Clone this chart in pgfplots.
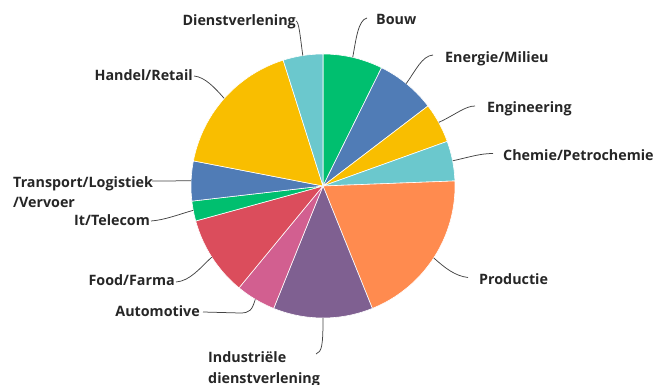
\documentclass[border=0pt]{standalone}
\usepackage{fontspec}
\setmainfont{Open Sans}
\usepackage{pgfplots}
\pgfplotsset{compat=1.18}
\definecolor{cgreen}{HTML}{00BF6F}
\definecolor{cblue}{HTML}{507CB6}
\definecolor{cyellow}{HTML}{F9BE00}
\definecolor{cteal}{HTML}{6BC8CD}
\definecolor{corange}{HTML}{FF8B4F}
\definecolor{cpurple}{HTML}{7F6091}
\definecolor{cpink}{HTML}{D25F90}
\definecolor{cred}{HTML}{DB4D5C}
\definecolor{lead}{HTML}{444444}
% counts per sector (total 41); slice given by cumulative start and end
\newcommand\slice[3]{%
  \pgfmathsetmacro\sa{#1*360/41}%
  \pgfmathsetmacro\sb{#2*360/41}%
  \addplot[fill=#3, draw=white, line width=0.6bp, domain=\sa:\sb, samples=80]
    ({323+132*sin(x)},{-186+132*cos(x)}) -- (323,-186) -- cycle;
}
\tikzset{lbl/.style={font=\fontsize{14.3bp}{17bp}\selectfont\bfseries, text=black!85, inner sep=0pt}}
\begin{document}
\begin{tikzpicture}
\begin{axis}[
  width=657bp, height=385bp, scale only axis,
  xmin=0, xmax=657, ymin=-385, ymax=0,
  hide axis, clip=false,
]
\slice{0}{3}{cgreen}    % Bouw 3
\slice{3}{6}{cblue}     % Energie/Milieu 3
\slice{6}{8}{cyellow}   % Engineering 2
\slice{8}{10}{cteal}    % Chemie/Petrochemie 2
\slice{10}{18}{corange} % Productie 8
\slice{18}{23}{cpurple} % Industriele dienstverlening 5
\slice{23}{25}{cpink}   % Automotive 2
\slice{25}{29}{cred}    % Food/Farma 4
\slice{29}{30}{cgreen}  % It/Telecom 1
\slice{30}{32}{cblue}   % Transport 2
\slice{32}{39}{cyellow} % Handel/Retail 7
\slice{39}{41}{cteal}   % Dienstverlening 2

\begin{scope}[lead, line width=0.75bp]
\draw (302.8,-55.6) .. controls (300,-35) and (299,-22) .. (296,-21);
\draw (352.7,-57.4) .. controls (356,-40) and (358,-20) .. (367,-18);
\draw (406.2,-83.6) .. controls (416,-70) and (422,-56) .. (433,-55);
\draw (438.7,-122.4) .. controls (455,-115) and (465,-106) .. (475,-106);
\draw (452.6,-160.8) .. controls (470,-157) and (480,-153.5) .. (493,-153.5);
\draw (433.7,-257.9) .. controls (445,-268) and (455,-276) .. (468,-277.5);
\draw (323,-318) .. controls (323,-345) and (322,-352) .. (316,-354);
\draw (255.3,-299.3) .. controls (252,-310) and (250,-313) .. (240,-313) -- (203,-312);
\draw (211.8,-257.1) .. controls (200,-268) and (190,-281) .. (176,-282);
\draw (193.3,-210.3) .. controls (180,-214) and (165,-220) .. (151,-221);
\draw (191.1,-180.8) -- (152,-181);
\draw (224.2,-98.4) .. controls (215,-88) and (205,-77) .. (194,-76);
\end{scope}

\node[lbl, anchor=base east] at (296,-26) {Dienstverlening};
\node[lbl, anchor=base west] at (376,-25) {Bouw};
\node[lbl, anchor=base west] at (445,-63) {Energie/Milieu};
\node[lbl, anchor=base west] at (487,-113) {Engineering};
\node[lbl, anchor=base west] at (503,-161) {Chemie/Petrochemie};
\node[lbl, anchor=base west] at (479,-285) {Productie};
\node[lbl, anchor=base west] at (208,-362) {Industriële};
\node[lbl, anchor=base west] at (208,-383) {dienstverlening};
\node[lbl, anchor=base east] at (200,-317) {Automotive};
\node[lbl, anchor=base east] at (175,-286) {Food/Farma};
\node[lbl, anchor=base east] at (150,-226) {It/Telecom};
\node[lbl, anchor=base west] at (13,-188) {Transport/Logistiek};
\node[lbl, anchor=base west] at (13,-208) {/Vervoer};
\node[lbl, anchor=base east] at (193,-81) {Handel/Retail};
\end{axis}
\pgfresetboundingbox
\useasboundingbox (0,0) rectangle (657bp,385bp);
\end{tikzpicture}
\end{document}
